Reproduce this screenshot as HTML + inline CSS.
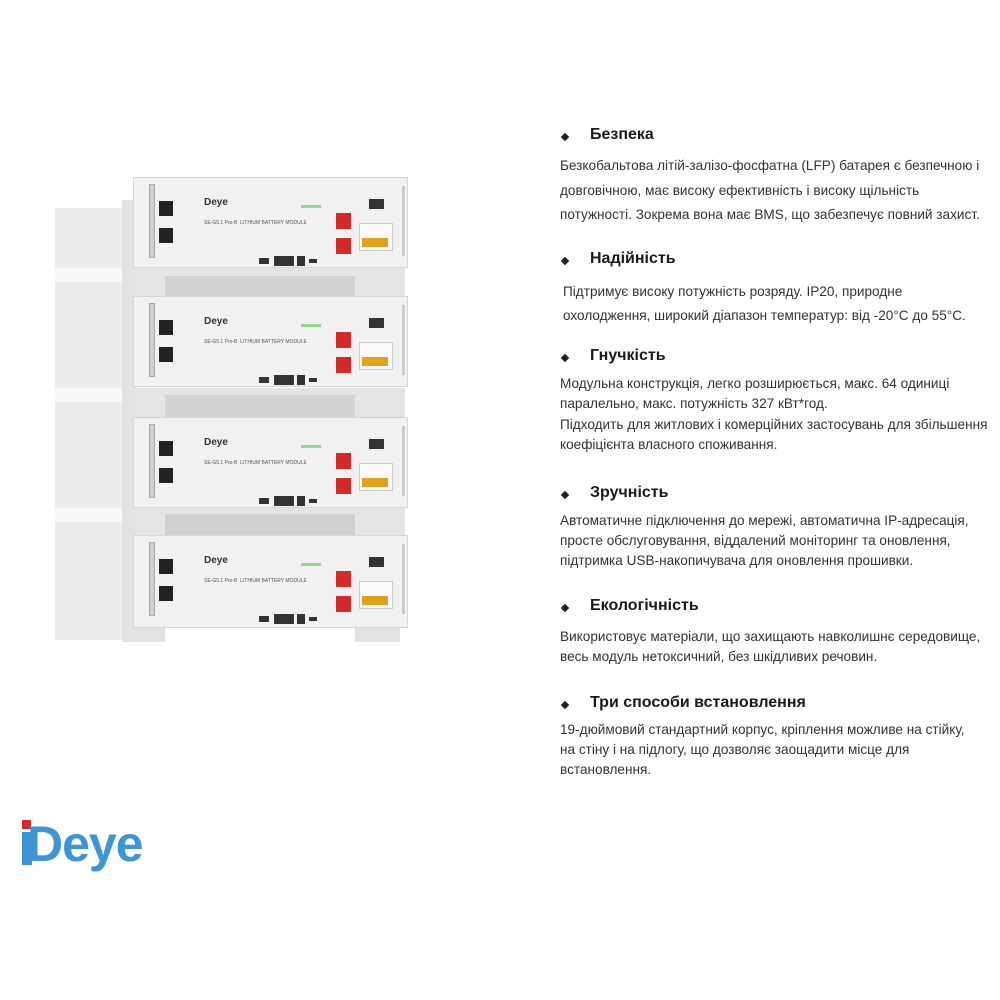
<!DOCTYPE html>
<html><head><meta charset="utf-8"><style>
body{margin:0;width:1000px;height:1000px;background:#fff;position:relative;overflow:hidden;font-family:"Liberation Sans",sans-serif;color:#222}
.a{position:absolute}
.m{position:absolute;left:133px;width:275px;height:91px;background:#f1f1f1;border:1px solid #d6d6d6;box-sizing:border-box}
.m div{position:absolute}
.h{font-weight:bold;font-size:16px;color:#1a1a1a}
.b{font-size:13.6px;color:#333;line-height:20px;white-space:nowrap}
.dot{position:absolute;width:6px;height:6px;background:#222;transform:rotate(45deg)}
</style></head><body>
<!-- rack -->
<div class="a" style="left:55px;top:208px;width:80px;height:432px;background:#ececec"></div>
<div class="a" style="left:55px;top:268px;width:80px;height:14px;background:#f8f8f8"></div>
<div class="a" style="left:55px;top:388px;width:80px;height:14px;background:#f8f8f8"></div>
<div class="a" style="left:55px;top:508px;width:80px;height:14px;background:#f8f8f8"></div>
<div class="a" style="left:122px;top:200px;width:14px;height:442px;background:#e2e2e2"></div>
<div class="a" style="left:135px;top:268px;width:270px;height:28px;background:#e4e4e4"></div>
<div class="a" style="left:165px;top:276px;width:190px;height:20px;background:#d2d2d2"></div>
<div class="a" style="left:135px;top:388px;width:270px;height:29px;background:#e4e4e4"></div>
<div class="a" style="left:165px;top:395px;width:190px;height:22px;background:#d4d4d4"></div>
<div class="a" style="left:135px;top:508px;width:270px;height:27px;background:#e4e4e4"></div>
<div class="a" style="left:165px;top:514px;width:190px;height:21px;background:#cfcfcf"></div>
<div class="a" style="left:135px;top:626px;width:30px;height:16px;background:#e2e2e2"></div>
<div class="a" style="left:355px;top:626px;width:45px;height:16px;background:#e2e2e2"></div>

<!-- modules -->
<div class="m" style="top:177px">
<div style="left:15px;top:6px;width:4px;height:72px;background:#cfcfcf;border:1px solid #aaa"></div>
<div style="left:25px;top:23px;width:14px;height:15px;background:#222"></div>
<div style="left:25px;top:50px;width:14px;height:15px;background:#222"></div>
<div style="left:70px;top:19px;font-size:10px;font-weight:bold;color:#333">Deye</div>
<div style="left:70px;top:42px;font-size:5px;color:#555;white-space:nowrap">SE-G5.1 Pro-B &nbsp;LITHIUM BATTERY MODULE</div>
<div style="left:167px;top:27px;width:20px;height:3px;background:#6c6;opacity:.7"></div>
<div style="left:202px;top:35px;width:15px;height:16px;background:#d42a2a"></div>
<div style="left:202px;top:60px;width:15px;height:16px;background:#d42a2a"></div>
<div style="left:235px;top:21px;width:15px;height:10px;background:#333"></div>
<div style="left:225px;top:45px;width:32px;height:26px;background:#fafafa;border:1px solid #ccc"></div>
<div style="left:228px;top:60px;width:26px;height:9px;background:#e0a020"></div>
<div style="left:125px;top:80px;width:10px;height:6px;background:#333"></div>
<div style="left:140px;top:78px;width:20px;height:10px;background:#333"></div>
<div style="left:163px;top:78px;width:8px;height:10px;background:#333"></div>
<div style="left:175px;top:81px;width:8px;height:4px;background:#333"></div>
<div style="left:268px;top:8px;width:3px;height:70px;background:#ccc"></div>
</div>
<div class="m" style="top:296px">
<div style="left:15px;top:6px;width:4px;height:72px;background:#cfcfcf;border:1px solid #aaa"></div>
<div style="left:25px;top:23px;width:14px;height:15px;background:#222"></div>
<div style="left:25px;top:50px;width:14px;height:15px;background:#222"></div>
<div style="left:70px;top:19px;font-size:10px;font-weight:bold;color:#333">Deye</div>
<div style="left:70px;top:42px;font-size:5px;color:#555;white-space:nowrap">SE-G5.1 Pro-B &nbsp;LITHIUM BATTERY MODULE</div>
<div style="left:167px;top:27px;width:20px;height:3px;background:#6c6;opacity:.7"></div>
<div style="left:202px;top:35px;width:15px;height:16px;background:#d42a2a"></div>
<div style="left:202px;top:60px;width:15px;height:16px;background:#d42a2a"></div>
<div style="left:235px;top:21px;width:15px;height:10px;background:#333"></div>
<div style="left:225px;top:45px;width:32px;height:26px;background:#fafafa;border:1px solid #ccc"></div>
<div style="left:228px;top:60px;width:26px;height:9px;background:#e0a020"></div>
<div style="left:125px;top:80px;width:10px;height:6px;background:#333"></div>
<div style="left:140px;top:78px;width:20px;height:10px;background:#333"></div>
<div style="left:163px;top:78px;width:8px;height:10px;background:#333"></div>
<div style="left:175px;top:81px;width:8px;height:4px;background:#333"></div>
<div style="left:268px;top:8px;width:3px;height:70px;background:#ccc"></div>
</div>
<div class="m" style="top:417px">
<div style="left:15px;top:6px;width:4px;height:72px;background:#cfcfcf;border:1px solid #aaa"></div>
<div style="left:25px;top:23px;width:14px;height:15px;background:#222"></div>
<div style="left:25px;top:50px;width:14px;height:15px;background:#222"></div>
<div style="left:70px;top:19px;font-size:10px;font-weight:bold;color:#333">Deye</div>
<div style="left:70px;top:42px;font-size:5px;color:#555;white-space:nowrap">SE-G5.1 Pro-B &nbsp;LITHIUM BATTERY MODULE</div>
<div style="left:167px;top:27px;width:20px;height:3px;background:#6c6;opacity:.7"></div>
<div style="left:202px;top:35px;width:15px;height:16px;background:#d42a2a"></div>
<div style="left:202px;top:60px;width:15px;height:16px;background:#d42a2a"></div>
<div style="left:235px;top:21px;width:15px;height:10px;background:#333"></div>
<div style="left:225px;top:45px;width:32px;height:26px;background:#fafafa;border:1px solid #ccc"></div>
<div style="left:228px;top:60px;width:26px;height:9px;background:#e0a020"></div>
<div style="left:125px;top:80px;width:10px;height:6px;background:#333"></div>
<div style="left:140px;top:78px;width:20px;height:10px;background:#333"></div>
<div style="left:163px;top:78px;width:8px;height:10px;background:#333"></div>
<div style="left:175px;top:81px;width:8px;height:4px;background:#333"></div>
<div style="left:268px;top:8px;width:3px;height:70px;background:#ccc"></div>
</div>
<div class="m" style="top:535px;height:93px">
<div style="left:15px;top:6px;width:4px;height:72px;background:#cfcfcf;border:1px solid #aaa"></div>
<div style="left:25px;top:23px;width:14px;height:15px;background:#222"></div>
<div style="left:25px;top:50px;width:14px;height:15px;background:#222"></div>
<div style="left:70px;top:19px;font-size:10px;font-weight:bold;color:#333">Deye</div>
<div style="left:70px;top:42px;font-size:5px;color:#555;white-space:nowrap">SE-G5.1 Pro-B &nbsp;LITHIUM BATTERY MODULE</div>
<div style="left:167px;top:27px;width:20px;height:3px;background:#6c6;opacity:.7"></div>
<div style="left:202px;top:35px;width:15px;height:16px;background:#d42a2a"></div>
<div style="left:202px;top:60px;width:15px;height:16px;background:#d42a2a"></div>
<div style="left:235px;top:21px;width:15px;height:10px;background:#333"></div>
<div style="left:225px;top:45px;width:32px;height:26px;background:#fafafa;border:1px solid #ccc"></div>
<div style="left:228px;top:60px;width:26px;height:9px;background:#e0a020"></div>
<div style="left:125px;top:80px;width:10px;height:6px;background:#333"></div>
<div style="left:140px;top:78px;width:20px;height:10px;background:#333"></div>
<div style="left:163px;top:78px;width:8px;height:10px;background:#333"></div>
<div style="left:175px;top:81px;width:8px;height:4px;background:#333"></div>
<div style="left:268px;top:8px;width:3px;height:70px;background:#ccc"></div>
</div>

<!-- logo -->
<div class="a" style="left:22px;top:820px;width:9px;height:9px;background:#d42a2a"></div>
<div class="a" style="left:22px;top:832px;width:10px;height:33px;background:#3d95d3"></div>
<div class="a" style="left:27px;top:812px;font-size:50px;font-weight:bold;color:#3d95d3;letter-spacing:-1px;line-height:64px">Deye</div>

<!-- text -->
<div class="dot" style="left:562px;top:134px"></div>
<div class="a h" style="left:590px;top:126px">Безпека</div>
<div class="a b" style="left:560px;top:154px;line-height:24.5px">Безкобальтова літій-залізо-фосфатна (LFP) батарея є безпечною і<br>довговічною, має високу ефективність і високу щільність<br>потужності. Зокрема вона має BMS, що забезпечує повний захист.</div>
<div class="dot" style="left:562px;top:258px"></div>
<div class="a h" style="left:590px;top:250px">Надійність</div>
<div class="a b" style="left:563px;top:280px;line-height:24px">Підтримує високу потужність розряду. IP20, природне<br>охолодження, широкий діапазон температур: від -20°C до 55°C.</div>
<div class="dot" style="left:562px;top:355px"></div>
<div class="a h" style="left:590px;top:347px">Гнучкість</div>
<div class="a b" style="left:560px;top:374px;line-height:20.3px">Модульна конструкція, легко розширюється, макс. 64 одиниці<br>паралельно, макс. потужність 327 кВт*год.<br>Підходить для житлових і комерційних застосувань для збільшення<br>коефіцієнта власного споживання.</div>
<div class="dot" style="left:562px;top:492px"></div>
<div class="a h" style="left:590px;top:484px">Зручність</div>
<div class="a b" style="left:560px;top:511px">Автоматичне підключення до мережі, автоматична IP-адресація,<br>просте обслуговування, віддалений моніторинг та оновлення,<br>підтримка USB-накопичувача для оновлення прошивки.</div>
<div class="dot" style="left:562px;top:605px"></div>
<div class="a h" style="left:590px;top:597px">Екологічність</div>
<div class="a b" style="left:560px;top:627px">Використовує матеріали, що захищають навколишнє середовище,<br>весь модуль нетоксичний, без шкідливих речовин.</div>
<div class="dot" style="left:562px;top:702px"></div>
<div class="a h" style="left:590px;top:694px">Три способи встановлення</div>
<div class="a b" style="left:560px;top:720px">19-дюймовий стандартний корпус, кріплення можливе на стійку,<br>на стіну і на підлогу, що дозволяє заощадити місце для<br>встановлення.</div>
</body></html>
